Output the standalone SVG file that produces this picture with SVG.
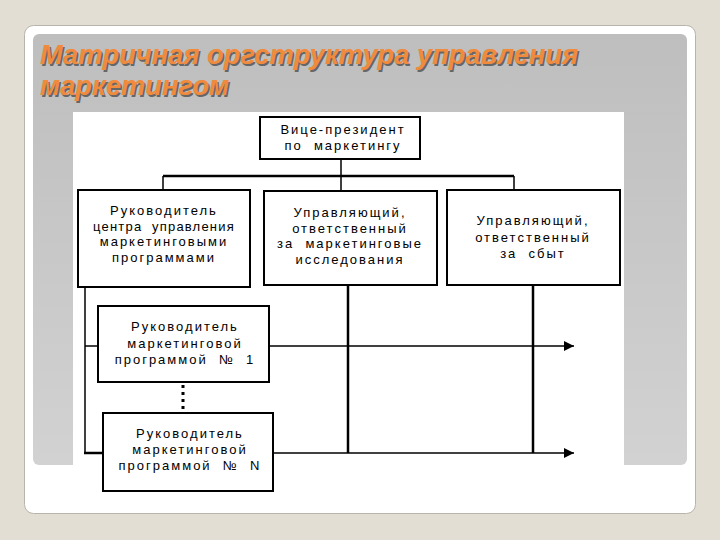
<svg xmlns="http://www.w3.org/2000/svg" width="720" height="540" viewBox="0 0 720 540">
<defs>
<linearGradient id="pg" x1="0" y1="0" x2="0" y2="1">
<stop offset="0" stop-color="#bebebe"/>
<stop offset="1" stop-color="#d2d2d2"/>
</linearGradient>
<marker id="ah" viewBox="0 0 10 10" refX="10" refY="5" markerWidth="12" markerHeight="10" markerUnits="userSpaceOnUse" orient="auto">
<path d="M0,0 L10,5 L0,10 Z" fill="#000"/>
</marker>
<style>
.box{fill:#fff;stroke:#000;stroke-width:2}
.t{font-family:"Liberation Sans",Arial,sans-serif;font-size:13px;fill:#000;text-anchor:middle;letter-spacing:2px;white-space:pre}
.c{fill:none;stroke:#000;stroke-width:1.5}
.ct{fill:none;stroke:#000;stroke-width:2.5}
.title{font-family:"Liberation Sans",Arial,sans-serif;font-size:27.3px;font-weight:bold;font-style:italic}
</style>
</defs>
<rect width="720" height="540" fill="#e3ded4"/>
<rect x="24.5" y="25.5" width="671" height="488" rx="9" fill="#fff" stroke="#b8b4ac" stroke-width="1"/>
<rect x="33" y="34" width="654" height="431" rx="6" fill="url(#pg)"/>
<g id="title">
<text class="title" x="41.5" y="65.5" fill="#666">Матричная оргструктура управления</text>
<text class="title" x="41.5" y="96.5" fill="#666">маркетингом</text>
<text class="title" x="40" y="64" fill="#f08a3c">Матричная оргструктура управления</text>
<text class="title" x="40" y="95" fill="#f08a3c">маркетингом</text>
</g>
<rect x="73" y="112" width="551" height="353" fill="#fff"/>
<g id="connectors">
<path class="c" d="M341,159 V176"/>
<path class="ct" d="M163,176 H514"/>
<path class="c" d="M163,176 V190 M341,176 V191 M514,176 V190"/>
<path class="c" d="M85,287 V453"/>
<path class="ct" d="M84,453 H103"/>
<path class="c" d="M85,346 H98"/>
<path class="ct" d="M348,285 V453 M533,285 V453"/>
<path class="c" d="M270,346 H574" marker-end="url(#ah)"/>
<path class="c" d="M273,453 H574" marker-end="url(#ah)"/>
<path d="M183,385 V412" stroke="#000" stroke-width="3" stroke-dasharray="3,4" fill="none"/>
</g>
<g id="vp">
<rect class="box" x="260" y="117" width="160" height="42"/>
<text class="t" x="343" y="134">Вице-президент</text>
<text class="t" x="343" y="150">по  маркетингу</text>
</g>
<g id="center">
<rect class="box" x="78" y="190" width="172" height="97"/>
<text class="t" x="164" y="215">Руководитель</text>
<text class="t" x="164" y="231" style="letter-spacing:1.2px">центра  управления</text>
<text class="t" x="164" y="246">маркетинговыми</text>
<text class="t" x="164" y="262">программами</text>
</g>
<g id="research">
<rect class="box" x="264" y="191" width="173" height="94"/>
<text class="t" x="350" y="217">Управляющий,</text>
<text class="t" x="350" y="233">ответственный</text>
<text class="t" x="350" y="248">за  маркетинговые</text>
<text class="t" x="350" y="264">исследования</text>
</g>
<g id="sales">
<rect class="box" x="447" y="190" width="173" height="95"/>
<text class="t" x="533" y="225">Управляющий,</text>
<text class="t" x="533" y="242">ответственный</text>
<text class="t" x="533" y="258">за  сбыт</text>
</g>
<g id="prog1">
<rect class="box" x="98" y="306" width="171" height="76"/>
<text class="t" x="185" y="331">Руководитель</text>
<text class="t" x="185" y="348">маркетинговой</text>
<text class="t" x="185" y="364">программой  №  1</text>
</g>
<g id="progN">
<rect class="box" x="103" y="413" width="170" height="78"/>
<text class="t" x="190" y="438">Руководитель</text>
<text class="t" x="190" y="454">маркетинговой</text>
<text class="t" x="190" y="470">программой  №  N</text>
</g>
</svg>
